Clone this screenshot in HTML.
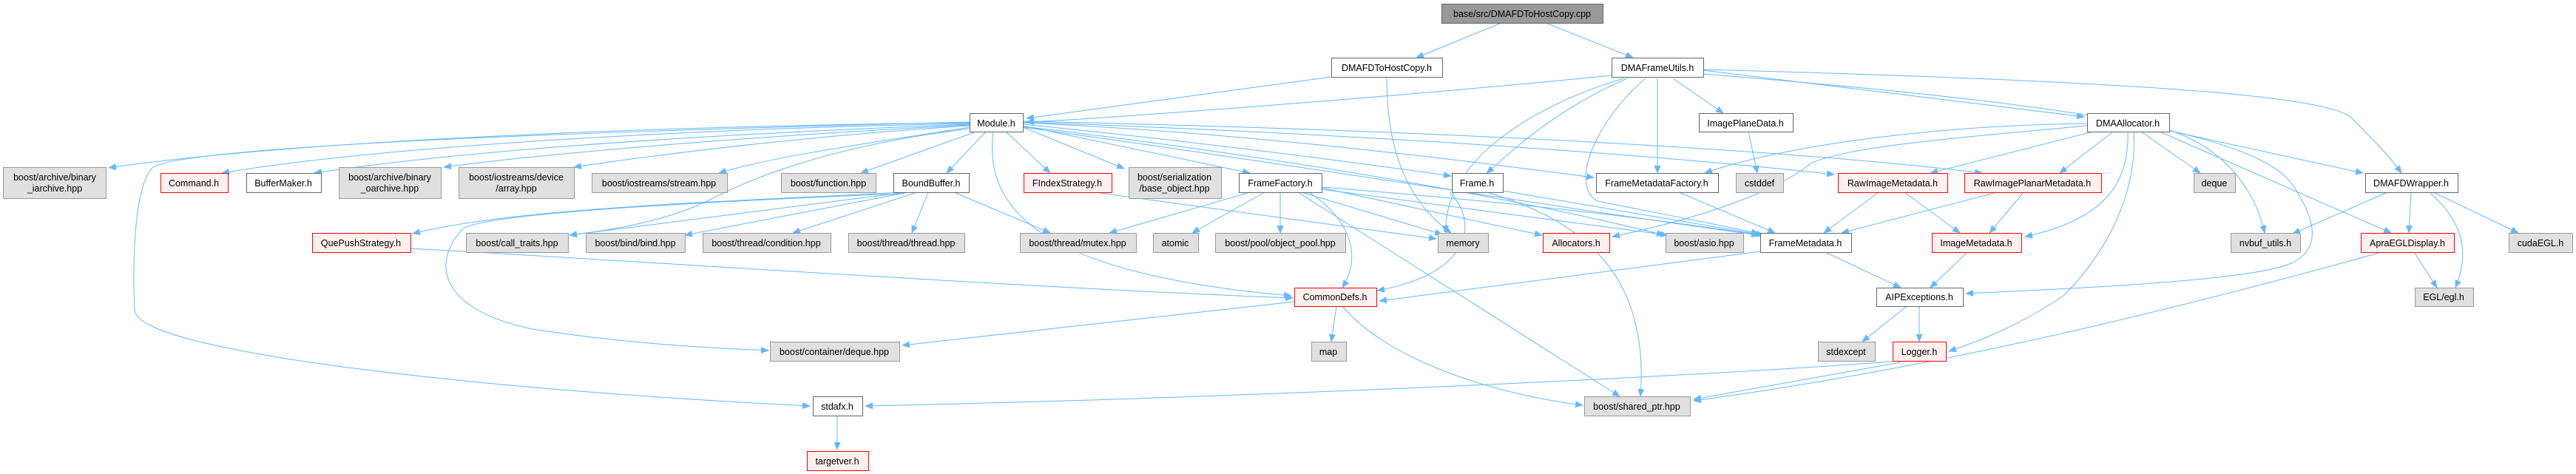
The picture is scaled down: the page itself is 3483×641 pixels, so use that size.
<!DOCTYPE html>
<html><head><meta charset="utf-8"><style>
html,body{margin:0;padding:0;background:#fff;}
svg{display:block;}
text{font-family:"Liberation Sans",Helvetica,sans-serif;font-size:12.5px;fill:#000;text-anchor:middle;}
.w{fill:#fff;stroke:#666;stroke-width:1;}
.g{fill:#e0e0e0;stroke:#999;stroke-width:1;}
.r{fill:#fff0f0;stroke:#f00;stroke-width:1;}
.t{fill:#999;stroke:#666;stroke-width:1;}
.e{fill:none;stroke:#63b8ff;stroke-width:1;marker-end:url(#a);}
</style></head><body>
<svg width="3483" height="641" viewBox="0 0 3483 641" xmlns="http://www.w3.org/2000/svg">
<defs><marker id="a" markerUnits="userSpaceOnUse" markerWidth="11" markerHeight="9" refX="10" refY="4.5" orient="auto"><path d="M0,0 L11,4.5 L0,9 z" fill="#63b8ff"/></marker></defs>
<g>
<path class="e" d="M2030,31 L1915,78"/>
<path class="e" d="M2090,31 L2208,78"/>
<path class="e" d="M1800,104 L1388,160"/>
<path class="e" d="M1875,105 C1875,200 1900,270 1962,315"/>
<path class="e" d="M2179,102 C1900,130 1500,160 1388,165"/>
<path class="e" d="M2195,106 C2050,150 1950,230 1955,315"/>
<path class="e" d="M2200,106 C2100,150 2050,200 2010,234"/>
<path class="e" d="M2241,106 L2241,234"/>
<path class="e" d="M2262,106 L2330,153"/>
<path class="e" d="M2303,95 L2818,158"/>
<path class="e" d="M2303,94 C2900,110 3150,130 3180,160 C3210,190 3230,210 3247,234"/>
<path class="e" d="M2303,100 C2800,140 3050,180 3100,250 C3140,310 3130,340 3100,355 C3050,380 2800,390 2658,397"/>
<path class="e" d="M2225,106 C2160,160 2120,250 2160,272 C2250,290 2330,305 2378,316"/>
<path class="e" d="M2010,260 C2150,300 2230,380 2218,536"/>
<path class="e" d="M2559,489 C2200,515 1600,540 1170,549"/>
<path class="e" d="M2570,490 L2290,540"/>
<path class="e" d="M3220,341 C2900,430 2600,500 2290,542"/>
<path class="e" d="M1815,414 C1870,480 2000,530 2140,548"/>
<path class="e" d="M1311,166 C900,170 400,190 147,227"/>
<path class="e" d="M1311,167 C900,175 500,200 300,234"/>
<path class="e" d="M1311,168 C1000,180 650,200 425,234"/>
<path class="e" d="M1311,169 C1100,180 800,200 600,226"/>
<path class="e" d="M1311,170 C1150,180 950,200 776,226"/>
<path class="e" d="M1311,172 C1200,190 1050,210 972,234"/>
<path class="e" d="M1320,178 L1164,234"/>
<path class="e" d="M1333,178 L1280,234"/>
<path class="e" d="M1360,178 L1420,234"/>
<path class="e" d="M1383,172 L1520,228"/>
<path class="e" d="M1383,170 C1500,195 1600,215 1690,234"/>
<path class="e" d="M1383,168 C1600,190 1800,215 1962,238"/>
<path class="e" d="M1383,166 C1700,180 2000,220 2155,240"/>
<path class="e" d="M1383,165 C1800,180 2200,205 2480,236"/>
<path class="e" d="M1383,164 C1900,175 2400,200 2680,234"/>
<path class="e" d="M1383,172 C1800,230 2100,280 2378,318"/>
<path class="e" d="M1383,171 C1800,220 2100,280 2250,318"/>
<path class="e" d="M1343,178 C1330,280 1400,370 1746,400"/>
<path class="e" d="M1311,165 C700,180 230,200 205,228 C178,260 180,380 182,420 C190,480 700,530 1095,549"/>
<path class="e" d="M1311,174 C1100,200 1000,250 960,270 C900,300 820,312 770,318"/>
<path class="e" d="M1225,260 L770,318"/>
<path class="e" d="M1228,260 L926,318"/>
<path class="e" d="M1240,260 L1072,315"/>
<path class="e" d="M1255,260 L1233,315"/>
<path class="e" d="M1290,260 L1420,315"/>
<path class="e" d="M1220,260 C1000,272 700,280 558,316"/>
<path class="e" d="M1215,262 C900,275 650,290 625,310 C580,360 600,420 720,445 C850,465 950,470 1039,474"/>
<path class="e" d="M1480,260 C1700,290 1850,310 1942,323"/>
<path class="e" d="M555,336 C900,355 1400,390 1748,403"/>
<path class="e" d="M1690,260 L1500,315"/>
<path class="e" d="M1710,260 L1612,315"/>
<path class="e" d="M1731,260 L1731,315"/>
<path class="e" d="M1760,260 L1950,317"/>
<path class="e" d="M1787,254 L2085,318"/>
<path class="e" d="M1770,260 C1830,300 1840,350 1815,389"/>
<path class="e" d="M1755,260 L2190,536"/>
<path class="e" d="M1787,253 C2000,270 2200,290 2380,318"/>
<path class="e" d="M1787,256 L2255,318"/>
<path class="e" d="M1960,260 C2000,300 1990,370 1862,393"/>
<path class="e" d="M2032,258 L2385,318"/>
<path class="e" d="M1750,408 L1220,467"/>
<path class="e" d="M1807,414 L1800,462"/>
<path class="e" d="M2270,260 L2400,315"/>
<path class="e" d="M2364,178 L2376,234"/>
<path class="e" d="M2540,260 L2466,315"/>
<path class="e" d="M2575,260 L2650,315"/>
<path class="e" d="M2700,260 L2490,315"/>
<path class="e" d="M2736,260 L2690,315"/>
<path class="e" d="M2380,340 L1865,407"/>
<path class="e" d="M2468,341 L2570,389"/>
<path class="e" d="M2660,341 L2610,389"/>
<path class="e" d="M2578,414 L2518,462"/>
<path class="e" d="M2595,414 L2595,462"/>
<path class="e" d="M2822,167 C2600,170 2400,200 2305,234"/>
<path class="e" d="M2830,178 L2610,234"/>
<path class="e" d="M2857,178 L2785,234"/>
<path class="e" d="M2877,178 C2880,260 2830,300 2738,320"/>
<path class="e" d="M2885,178 C2890,260 2850,340 2790,400 C2730,440 2680,460 2635,475"/>
<path class="e" d="M2822,170 C2600,190 2500,200 2450,220 C2400,260 2300,295 2180,320"/>
<path class="e" d="M2895,178 L2975,234"/>
<path class="e" d="M2930,175 C3010,200 3050,260 3062,315"/>
<path class="e" d="M2933,177 L3195,234"/>
<path class="e" d="M2920,178 L3233,315"/>
<path class="e" d="M3228,260 L3100,316"/>
<path class="e" d="M3260,260 L3257,315"/>
<path class="e" d="M3285,260 C3330,300 3340,340 3320,389"/>
<path class="e" d="M3290,260 L3405,315"/>
<path class="e" d="M3264,341 L3295,389"/>
<path class="e" d="M1132,562 L1132,608"/>
</g>
<g>
<rect class="t" x="1949.5" y="5.5" width="218" height="26"/><text x="2058" y="23">base/src/DMAFDToHostCopy.cpp</text>
<rect class="w" x="1800.5" y="78.5" width="150" height="26"/><text x="1875" y="96">DMAFDToHostCopy.h</text>
<rect class="w" x="2179.5" y="78.5" width="124" height="26"/><text x="2241" y="96">DMAFrameUtils.h</text>
<rect class="w" x="1311.5" y="153.5" width="72" height="25"/><text x="1347" y="171">Module.h</text>
<rect class="w" x="2297.5" y="153.5" width="127" height="25"/><text x="2360" y="171">ImagePlaneData.h</text>
<rect class="w" x="2822.5" y="153.5" width="111" height="25"/><text x="2877" y="171">DMAAllocator.h</text>

<rect class="g" x="4.5" y="226.5" width="139" height="42"/><text x="74" y="244">boost/archive/binary</text><text x="74" y="259">_iarchive.hpp</text>
<rect class="r" x="217.5" y="234.5" width="91" height="26"/><text x="262" y="252">Command.h</text>
<rect class="w" x="333.5" y="234.5" width="101" height="26"/><text x="383" y="252">BufferMaker.h</text>
<rect class="g" x="458.5" y="226.5" width="138" height="42"/><text x="527" y="244">boost/archive/binary</text><text x="527" y="259">_oarchive.hpp</text>
<rect class="g" x="620.5" y="226.5" width="156" height="42"/><text x="698" y="244">boost/iostreams/device</text><text x="698" y="259">/array.hpp</text>
<rect class="g" x="800.5" y="234.5" width="183" height="26"/><text x="891" y="252">boost/iostreams/stream.hpp</text>
<rect class="g" x="1056.5" y="234.5" width="128" height="26"/><text x="1120" y="252">boost/function.hpp</text>
<rect class="w" x="1208.5" y="234.5" width="102" height="26"/><text x="1259" y="252">BoundBuffer.h</text>
<rect class="r" x="1384.5" y="234.5" width="119" height="26"/><text x="1443" y="252">FIndexStrategy.h</text>
<rect class="g" x="1526.5" y="226.5" width="125" height="42"/><text x="1588" y="244">boost/serialization</text><text x="1588" y="259">/base_object.hpp</text>
<rect class="w" x="1675.5" y="234.5" width="112" height="26"/><text x="1731" y="252">FrameFactory.h</text>
<rect class="w" x="1963.5" y="234.5" width="69" height="26"/><text x="1997" y="252">Frame.h</text>
<rect class="w" x="2158.5" y="234.5" width="165" height="26"/><text x="2240" y="252">FrameMetadataFactory.h</text>
<rect class="g" x="2347.5" y="234.5" width="64" height="26"/><text x="2379" y="252">cstddef</text>
<rect class="r" x="2485.5" y="234.5" width="148" height="26"/><text x="2559" y="252">RawImageMetadata.h</text>
<rect class="r" x="2656.5" y="234.5" width="185" height="26"/><text x="2748" y="252">RawImagePlanarMetadata.h</text>
<rect class="g" x="2966.5" y="234.5" width="56" height="26"/><text x="2994" y="252">deque</text>
<rect class="w" x="3198.5" y="234.5" width="125" height="26"/><text x="3260" y="252">DMAFDWrapper.h</text>

<rect class="r" x="422.5" y="315.5" width="133" height="26"/><text x="488" y="333">QuePushStrategy.h</text>
<rect class="g" x="630.5" y="315.5" width="138" height="26"/><text x="699" y="333">boost/call_traits.hpp</text>
<rect class="g" x="792.5" y="315.5" width="134" height="26"/><text x="859" y="333">boost/bind/bind.hpp</text>
<rect class="g" x="950.5" y="315.5" width="173" height="26"/><text x="1036" y="333">boost/thread/condition.hpp</text>
<rect class="g" x="1147.5" y="315.5" width="157" height="26"/><text x="1225" y="333">boost/thread/thread.hpp</text>
<rect class="g" x="1379.5" y="315.5" width="157" height="26"/><text x="1457" y="333">boost/thread/mutex.hpp</text>
<rect class="g" x="1559.5" y="315.5" width="61" height="26"/><text x="1589" y="333">atomic</text>
<rect class="g" x="1643.5" y="315.5" width="176" height="26"/><text x="1731" y="333">boost/pool/object_pool.hpp</text>
<rect class="g" x="1944.5" y="315.5" width="68" height="26"/><text x="1978" y="333">memory</text>
<rect class="r" x="2086.5" y="315.5" width="90" height="26"/><text x="2131" y="333">Allocators.h</text>
<rect class="g" x="2252.5" y="315.5" width="105" height="26"/><text x="2304" y="333">boost/asio.hpp</text>
<rect class="w" x="2380.5" y="315.5" width="123" height="26"/><text x="2441" y="333">FrameMetadata.h</text>
<rect class="r" x="2612.5" y="315.5" width="121" height="26"/><text x="2672" y="333">ImageMetadata.h</text>
<rect class="g" x="3016.5" y="315.5" width="94" height="26"/><text x="3063" y="333">nvbuf_utils.h</text>
<rect class="r" x="3192.5" y="315.5" width="126" height="26"/><text x="3255" y="333">ApraEGLDisplay.h</text>
<rect class="g" x="3392.5" y="315.5" width="86" height="26"/><text x="3435" y="333">cudaEGL.h</text>

<rect class="r" x="1750.5" y="389.5" width="111" height="25"/><text x="1805" y="406">CommonDefs.h</text>
<rect class="w" x="2537.5" y="389.5" width="117" height="25"/><text x="2595" y="406">AIPExceptions.h</text>
<rect class="g" x="3265.5" y="389.5" width="79" height="25"/><text x="3304" y="406">EGL/egl.h</text>

<rect class="g" x="1041.5" y="462.5" width="175" height="26"/><text x="1128" y="480">boost/container/deque.hpp</text>
<rect class="g" x="1773.5" y="462.5" width="47" height="26"/><text x="1796" y="480">map</text>
<rect class="g" x="2458.5" y="462.5" width="77" height="26"/><text x="2496" y="480">stdexcept</text>
<rect class="r" x="2559.5" y="462.5" width="72" height="26"/><text x="2595" y="480">Logger.h</text>

<rect class="w" x="1099.5" y="536.5" width="67" height="26"/><text x="1132" y="554">stdafx.h</text>
<rect class="g" x="2142.5" y="536.5" width="143" height="26"/><text x="2213" y="554">boost/shared_ptr.hpp</text>

<rect class="r" x="1091.5" y="610.5" width="83" height="26"/><text x="1132" y="628">targetver.h</text>
</g>
</svg>
</body></html>
